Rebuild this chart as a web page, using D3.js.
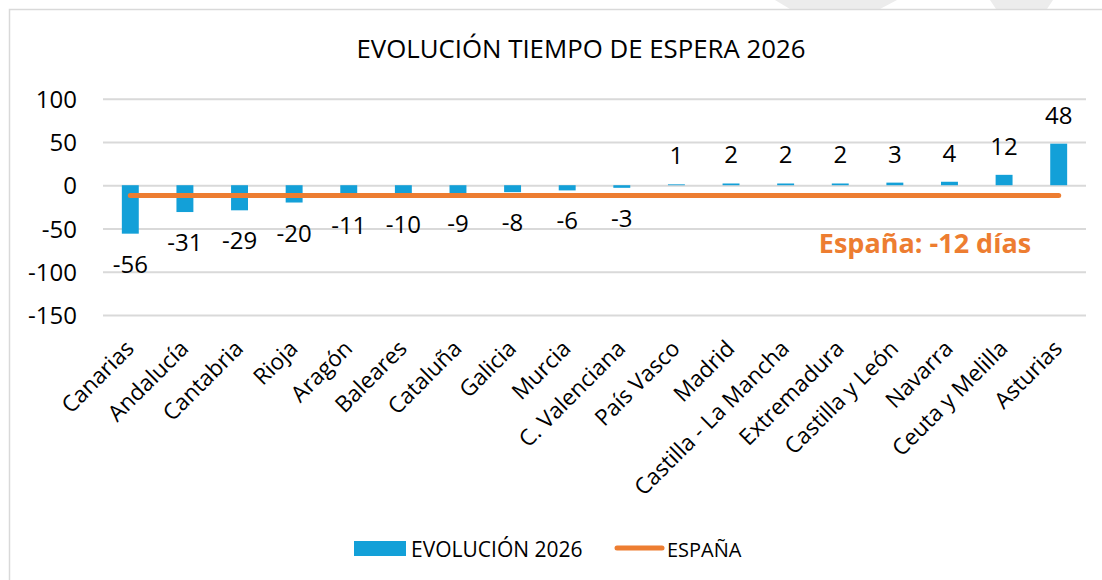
<!DOCTYPE html>
<html>
<head>
<meta charset="UTF-8">
<title>Evolución tiempo de espera 2026</title>
<script src="https://cdnjs.cloudflare.com/ajax/libs/d3/7.8.5/d3.min.js"></script>
<style>
html, body { margin: 0; padding: 0; background: #ffffff; }
svg { display: block; font-family: 'Open Sans', sans-serif; }
</style>
</head>
<body>
<script>
// data
var regiones = ["Canarias", "Andalucía", "Cantabria", "Rioja", "Aragón", "Baleares",
    "Cataluña", "Galicia", "Murcia", "C. Valenciana", "País Vasco", "Madrid",
    "Castilla - La Mancha", "Extremadura", "Castilla y León", "Navarra",
    "Ceuta y Melilla", "Asturias"];
var evolucion = [-56, -31, -29, -20, -11, -10, -9, -8, -6, -3, 1, 2, 2, 2, 3, 4, 12, 48];
var espana = -12;
var yTicks = [100, 50, 0, -50, -100, -150];
var titulo = "EVOLUCIÓN TIEMPO DE ESPERA 2026";
var nota = "España: -12 días";
var leyenda = ["EVOLUCIÓN 2026", "ESPAÑA"];

var width = 1102,
    height = 580;

var AZUL = "#13a0d8",
    NARANJA = "#ed7d31",
    GRID = "#d9d9d9";

var svg = d3.select("body").append("svg")
    .attr("width", width)
    .attr("height", height);

// watermark stripes behind the chart box
var marca = svg.append("g").attr("fill", "#ececec");
marca.append("polygon").attr("points", "775,0 897,0 880,9 790,9");
marca.append("polygon").attr("points", "990,0 1053,0 1047,9 996,9");

// chart box
svg.append("rect")
    .attr("x", 9.5)
    .attr("y", 9.5)
    .attr("width", 1100)
    .attr("height", 600)
    .attr("fill", "#ffffff")
    .attr("stroke", "#d9d9d9")
    .attr("stroke-width", 1.5);

svg.append("text")
    .attr("x", 581)
    .attr("y", 58)
    .attr("text-anchor", "middle")
    .attr("font-size", 25.8)
    .attr("fill", "#000")
    .text(titulo);

var x = d3.scaleBand()
    .domain(regiones)
    .range([103, 1086])
    .paddingInner(0.69)
    .paddingOuter(0.345);

var y = d3.scaleLinear()
    .domain([-150, 100])
    .range([315, 98.7]);

// gridlines + y labels
var yAxis = d3.axisLeft(y)
    .tickValues(yTicks)
    .tickSize(-(1086 - 103))
    .tickPadding(26)
    .tickFormat(function(d) { return String(d); });

var gy = svg.append("g")
    .attr("transform", "translate(103,0)")
    .call(yAxis);
gy.select(".domain").remove();
gy.selectAll(".tick line")
    .attr("stroke", GRID)
    .attr("stroke-width", 2);
gy.selectAll(".tick text")
    .attr("font-size", 24)
    .attr("font-family", "'Open Sans', sans-serif")
    .attr("fill", "#000")
    .attr("dy", "0.36em");

// bars
svg.append("g").selectAll("rect")
    .data(evolucion)
    .enter()
    .append("rect")
    .attr("x", function(d, i) { return x(regiones[i]); })
    .attr("width", x.bandwidth())
    .attr("y", function(d) { return y(Math.max(0, d)); })
    .attr("height", function(d) { return Math.abs(y(d) - y(0)); })
    .attr("fill", AZUL);

// España average line
svg.append("line")
    .attr("x1", x(regiones[0]) + x.bandwidth() / 2)
    .attr("x2", x(regiones[regiones.length - 1]) + x.bandwidth() / 2)
    .attr("y1", y(espana))
    .attr("y2", y(espana))
    .attr("stroke", NARANJA)
    .attr("stroke-width", 5)
    .attr("stroke-linecap", "round");

// value labels
svg.append("g").selectAll("text")
    .data(evolucion)
    .enter()
    .append("text")
    .attr("x", function(d, i) { return x(regiones[i]) + x.bandwidth() / 2; })
    .attr("y", function(d) { return d < 0 ? y(d) + 39 : y(d) - 20; })
    .attr("text-anchor", "middle")
    .attr("font-size", 24)
    .attr("fill", "#000")
    .text(function(d) { return d; });

// category labels
svg.append("g").selectAll("text")
    .data(regiones)
    .enter()
    .append("text")
    .attr("transform", function(d) {
        return "translate(" + (x(d) + x.bandwidth() / 2 + 5) + ",350) rotate(-45)";
    })
    .attr("text-anchor", "end")
    .attr("font-size", 22.5)
    .attr("fill", "#000")
    .text(function(d) { return d; });

svg.append("text")
    .attr("x", 925)
    .attr("y", 253)
    .attr("text-anchor", "middle")
    .attr("font-size", 27)
    .attr("font-weight", "bold")
    .attr("fill", NARANJA)
    .text(nota);

// legend
var ley = svg.append("g");
ley.append("rect")
    .attr("x", 354)
    .attr("y", 541)
    .attr("width", 52)
    .attr("height", 15)
    .attr("fill", AZUL);
ley.append("text")
    .attr("x", 411)
    .attr("y", 557)
    .attr("font-size", 21)
    .attr("fill", "#000")
    .text(leyenda[0]);
ley.append("line")
    .attr("x1", 617)
    .attr("x2", 662)
    .attr("y1", 548)
    .attr("y2", 548)
    .attr("stroke", NARANJA)
    .attr("stroke-width", 5)
    .attr("stroke-linecap", "round");
ley.append("text")
    .attr("x", 667)
    .attr("y", 557)
    .attr("font-size", 20)
    .attr("fill", "#000")
    .text(leyenda[1]);
</script>
</body>
</html>
